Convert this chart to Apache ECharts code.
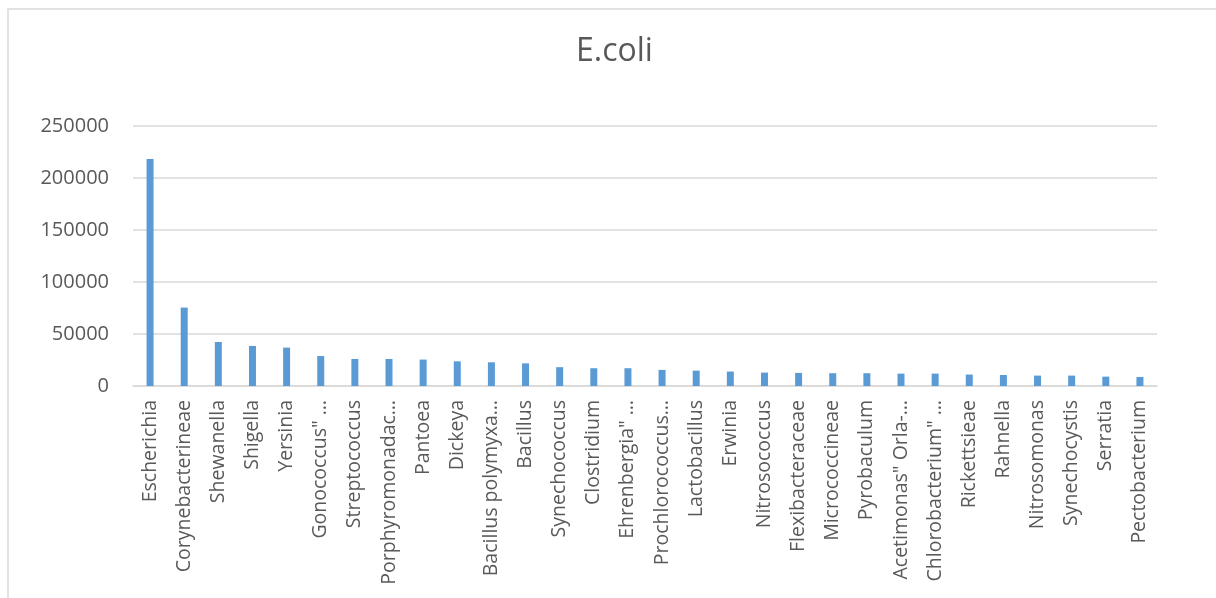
<!DOCTYPE html>
<html>
<head>
<meta charset="utf-8">
<script src="https://cdn.jsdelivr.net/npm/echarts@6/dist/echarts.min.js"></script>
<style>
  html, body { margin: 0; padding: 0; background: #ffffff; }
  #chart { width: 1216px; height: 598px; }
</style>
</head>
<body>
<div id="chart"></div>
<script>
// Genera ranked by count for the E.coli query
const genera = [
  'Escherichia', 'Corynebacterineae', 'Shewanella', 'Shigella', 'Yersinia',
  'Gonococcus" …', 'Streptococcus', 'Porphyromonadac…', 'Pantoea', 'Dickeya',
  'Bacillus polymyxa…', 'Bacillus', 'Synechococcus', 'Clostridium', 'Ehrenbergia" …',
  'Prochlorococcus…', 'Lactobacillus', 'Erwinia', 'Nitrosococcus', 'Flexibacteraceae',
  'Micrococcineae', 'Pyrobaculum', 'Acetimonas" Orla-…', 'Chlorobacterium" …', 'Rickettsieae',
  'Rahnella', 'Nitrosomonas', 'Synechocystis', 'Serratia', 'Pectobacterium'
];

const counts = [
  218300, 75400, 42300, 38500, 36900,
  28800, 26000, 26000, 25400, 23700,
  22800, 21800, 18100, 17100, 17100,
  15500, 14800, 13900, 12900, 12600,
  12300, 12300, 11900, 11900, 11000,
  10600, 10000, 10000, 9000, 8700
];

const yTicks = [0, 50000, 100000, 150000, 200000, 250000];

const textColor = '#595959';
const lineColor = '#d9d9d9';
const fontFamily = '"Open Sans", "Noto Sans", sans-serif';

const chart = echarts.init(document.getElementById('chart'));
chart.setOption({
  animation: false,
  backgroundColor: '#ffffff',
  graphic: [{
    type: 'rect',
    shape: { x: 8, y: 9, width: 1400, height: 800 },
    style: { fill: 'none', stroke: lineColor, lineWidth: 1.5 },
    silent: true,
    z: -1
  }],
  title: {
    text: 'E.coli',
    left: 571,
    top: 31,
    textStyle: { fontFamily, fontSize: 32, fontWeight: 'normal', color: textColor }
  },
  grid: { left: 133, right: 59, top: 126, bottom: 212, containLabel: false },
  xAxis: {
    type: 'category',
    data: genera,
    axisLine: { lineStyle: { color: lineColor, width: 1.5 } },
    axisTick: { show: false },
    axisLabel: {
      rotate: 90,
      interval: 0,
      margin: 14,
      fontFamily,
      fontSize: 19.5,
      color: textColor
    }
  },
  yAxis: {
    type: 'value',
    min: yTicks[0],
    max: yTicks[yTicks.length - 1],
    interval: yTicks[1] - yTicks[0],
    axisLine: { show: false },
    axisTick: { show: false },
    splitLine: { lineStyle: { color: lineColor, width: 1.5 } },
    axisLabel: {
      margin: 24,
      fontFamily,
      fontSize: 20,
      color: textColor,
      formatter: (v) => String(v)
    }
  },
  series: [{
    type: 'bar',
    data: counts,
    barWidth: 7,
    itemStyle: { color: '#5b9bd5' }
  }]
});
</script>
</body>
</html>
